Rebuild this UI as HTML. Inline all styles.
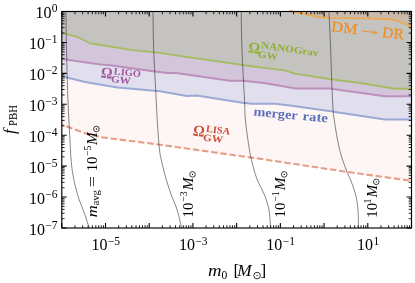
<!DOCTYPE html>
<html><head><meta charset="utf-8"><title>PBH constraints</title>
<style>html,body{margin:0;padding:0;background:#fff;}body{width:415px;height:283px;overflow:hidden;position:relative;}svg text{font-family:"Liberation Serif",serif;}</style></head>
<body>
<svg width="415" height="283" viewBox="0 0 415 283" style="position:absolute;left:0;top:0;will-change:transform;transform:translateZ(0)">
<rect width="415" height="283" fill="#fff"/>
<polygon points="61.80,76.25 85.00,82.00 117.50,87.50 160.00,91.25 187.00,96.10 196.50,95.60 242.50,102.80 252.00,103.80 264.00,103.70 275.00,103.70 290.00,105.40 332.50,111.40 340.00,112.80 385.00,119.50 411.50,119.50 411.50,180.80 347.60,172.00 264.00,159.40 160.00,144.70 102.50,137.40 88.80,134.60 77.00,130.30 61.80,124.50" fill="#fdf6f4"/>
<polygon points="61.80,58.90 100.70,64.40 110.00,65.20 140.50,69.60 160.80,72.20 167.00,73.10 176.00,72.90 230.00,80.75 242.50,80.75 264.00,83.10 296.00,88.45 330.00,88.45 340.00,90.10 385.00,96.25 411.50,96.25 411.50,119.50 385.00,119.50 340.00,112.80 332.50,111.40 290.00,105.40 275.00,103.70 264.00,103.70 252.00,103.80 242.50,102.80 196.50,95.60 187.00,96.10 160.00,91.25 117.50,87.50 85.00,82.00 61.80,76.25" fill="#e1dfee"/>
<polygon points="61.80,32.70 77.50,37.00 90.00,43.25 132.50,50.20 160.00,52.90 186.00,56.90 250.00,66.00 264.00,67.80 285.00,70.40 295.00,73.60 332.50,79.50 360.00,83.00 395.00,88.75 411.50,88.75 411.50,96.25 385.00,96.25 340.00,90.10 330.00,88.45 296.00,88.45 264.00,83.10 242.50,80.75 230.00,80.75 176.00,72.90 167.00,73.10 160.80,72.20 140.50,69.60 110.00,65.20 100.70,64.40 61.80,58.90" fill="#d3c5da"/>
<polygon points="61.80,11.50 61.80,32.70 77.50,37.00 90.00,43.25 132.50,50.20 160.00,52.90 186.00,56.90 250.00,66.00 264.00,67.80 285.00,70.40 295.00,73.60 332.50,79.50 360.00,83.00 395.00,88.75 411.50,88.75 411.50,11.50" fill="#c5c3bf"/>
<polygon points="289.80,10.90 317.50,16.80 328.50,18.00 364.00,18.30 386.00,19.20 394.00,19.80 398.00,21.00 411.50,26.70 411.50,11.50" fill="#c9baa9"/>
<line x1="400" y1="10.6" x2="412.0" y2="10.6" stroke="#c2e6e9" stroke-width="0.9"/>
<polyline points="61.80,124.50 77.00,130.30 88.80,134.60 102.50,137.40 160.00,144.70 264.00,159.40 347.60,172.00 411.50,180.80" fill="none" stroke="#e69e8a" stroke-width="2.1" stroke-dasharray="6.5 2.73" stroke-dashoffset="4.46"/>
<polyline points="61.80,76.25 85.00,82.00 117.50,87.50 160.00,91.25 187.00,96.10 196.50,95.60 242.50,102.80 252.00,103.80 264.00,103.70 275.00,103.70 290.00,105.40 332.50,111.40 340.00,112.80 385.00,119.50 411.50,119.50" fill="none" stroke="#9ba9d5" stroke-width="2.0" stroke-linejoin="round"/>
<polyline points="61.80,58.90 100.70,64.40 110.00,65.20 140.50,69.60 160.80,72.20 167.00,73.10 176.00,72.90 230.00,80.75 242.50,80.75 264.00,83.10 296.00,88.45 330.00,88.45 340.00,90.10 385.00,96.25 411.50,96.25" fill="none" stroke="#bc90bb" stroke-width="2.0" stroke-linejoin="round"/>
<polyline points="61.80,32.70 77.50,37.00 90.00,43.25 132.50,50.20 160.00,52.90 186.00,56.90 250.00,66.00 264.00,67.80 285.00,70.40 295.00,73.60 332.50,79.50 360.00,83.00 395.00,88.75 411.50,88.75" fill="none" stroke="#a5bc63" stroke-width="1.85" stroke-linejoin="round"/>
<polyline points="289.80,10.90 317.50,16.80 328.50,18.00 364.00,18.30 386.00,19.20 394.00,19.80 398.00,21.00 411.50,26.70" fill="none" stroke="#eea752" stroke-width="1.75" stroke-linejoin="round"/>
<path d="M65.90,11.50 C65.97,16.25 66.15,31.92 66.30,40.00 C66.45,48.08 66.62,52.67 66.80,60.00 C66.98,67.33 67.13,75.50 67.40,84.00 C67.67,92.50 68.07,103.33 68.40,111.00 C68.73,118.67 68.95,121.83 69.40,130.00 C69.85,138.17 70.50,152.50 71.10,160.00 C71.70,167.50 72.28,170.58 73.00,175.00 C73.72,179.42 74.37,182.37 75.40,186.50 C76.43,190.63 77.72,195.38 79.20,199.80 C80.68,204.22 82.62,208.30 84.30,213.00 C85.98,217.70 88.47,225.50 89.30,228.00" fill="none" stroke="#222" stroke-width="0.55"/>
<path d="M153.00,11.50 C153.12,17.92 153.17,35.25 153.70,50.00 C154.23,64.75 155.60,88.17 156.20,100.00 C156.80,111.83 156.75,112.67 157.30,121.00 C157.85,129.33 158.63,142.67 159.50,150.00 C160.37,157.33 161.35,160.00 162.50,165.00 C163.65,170.00 164.93,175.00 166.40,180.00 C167.87,185.00 169.50,190.00 171.30,195.00 C173.10,200.00 175.48,204.50 177.20,210.00 C178.92,215.50 180.87,225.00 181.60,228.00" fill="none" stroke="#222" stroke-width="0.55"/>
<path d="M241.20,11.50 C241.33,17.92 241.45,35.25 242.00,50.00 C242.55,64.75 243.92,88.17 244.50,100.00 C245.08,111.83 244.67,112.67 245.50,121.00 C246.33,129.33 248.30,142.67 249.50,150.00 C250.70,157.33 251.40,160.00 252.70,165.00 C254.00,170.00 255.33,175.00 257.30,180.00 C259.27,185.00 262.55,190.00 264.50,195.00 C266.45,200.00 268.00,204.50 269.00,210.00 C270.00,215.50 270.25,225.00 270.50,228.00" fill="none" stroke="#222" stroke-width="0.55"/>
<path d="M329.00,11.50 C329.28,17.92 330.12,35.25 330.70,50.00 C331.28,64.75 331.88,88.17 332.50,100.00 C333.12,111.83 333.20,112.67 334.40,121.00 C335.60,129.33 337.65,141.67 339.70,150.00 C341.75,158.33 344.88,166.00 346.70,171.00 C348.52,176.00 349.10,176.00 350.60,180.00 C352.10,184.00 354.47,190.00 355.70,195.00 C356.93,200.00 357.53,204.50 358.00,210.00 C358.47,215.50 358.42,225.00 358.50,228.00" fill="none" stroke="#222" stroke-width="0.55"/>
<path d="M61.80,228.0v-4.9 M61.80,11.5v4.9 M105.51,228.0v-4.9 M105.51,11.5v4.9 M149.22,228.0v-4.9 M149.22,11.5v4.9 M192.94,228.0v-4.9 M192.94,11.5v4.9 M236.65,228.0v-4.9 M236.65,11.5v4.9 M280.36,228.0v-4.9 M280.36,11.5v4.9 M324.07,228.0v-4.9 M324.07,11.5v4.9 M367.79,228.0v-4.9 M367.79,11.5v4.9 M411.50,228.0v-4.9 M411.50,11.5v4.9 M61.8,228.00h4.9 M411.5,228.00h-4.9 M61.8,197.07h4.9 M411.5,197.07h-4.9 M61.8,166.14h4.9 M411.5,166.14h-4.9 M61.8,135.21h4.9 M411.5,135.21h-4.9 M61.8,104.29h4.9 M411.5,104.29h-4.9 M61.8,73.36h4.9 M411.5,73.36h-4.9 M61.8,42.43h4.9 M411.5,42.43h-4.9 M61.8,11.50h4.9 M411.5,11.50h-4.9" stroke="#000" stroke-width="1.1" fill="none"/>
<path d="M74.96,228.0v-2.8 M74.96,11.5v2.8 M82.66,228.0v-2.8 M82.66,11.5v2.8 M88.12,228.0v-2.8 M88.12,11.5v2.8 M92.35,228.0v-2.8 M92.35,11.5v2.8 M95.81,228.0v-2.8 M95.81,11.5v2.8 M98.74,228.0v-2.8 M98.74,11.5v2.8 M101.28,228.0v-2.8 M101.28,11.5v2.8 M103.51,228.0v-2.8 M103.51,11.5v2.8 M118.67,228.0v-2.8 M118.67,11.5v2.8 M126.37,228.0v-2.8 M126.37,11.5v2.8 M131.83,228.0v-2.8 M131.83,11.5v2.8 M136.07,228.0v-2.8 M136.07,11.5v2.8 M139.53,228.0v-2.8 M139.53,11.5v2.8 M142.45,228.0v-2.8 M142.45,11.5v2.8 M144.99,228.0v-2.8 M144.99,11.5v2.8 M147.22,228.0v-2.8 M147.22,11.5v2.8 M162.38,228.0v-2.8 M162.38,11.5v2.8 M170.08,228.0v-2.8 M170.08,11.5v2.8 M175.54,228.0v-2.8 M175.54,11.5v2.8 M179.78,228.0v-2.8 M179.78,11.5v2.8 M183.24,228.0v-2.8 M183.24,11.5v2.8 M186.17,228.0v-2.8 M186.17,11.5v2.8 M188.70,228.0v-2.8 M188.70,11.5v2.8 M190.94,228.0v-2.8 M190.94,11.5v2.8 M206.10,228.0v-2.8 M206.10,11.5v2.8 M213.79,228.0v-2.8 M213.79,11.5v2.8 M219.26,228.0v-2.8 M219.26,11.5v2.8 M223.49,228.0v-2.8 M223.49,11.5v2.8 M226.95,228.0v-2.8 M226.95,11.5v2.8 M229.88,228.0v-2.8 M229.88,11.5v2.8 M232.41,228.0v-2.8 M232.41,11.5v2.8 M234.65,228.0v-2.8 M234.65,11.5v2.8 M249.81,228.0v-2.8 M249.81,11.5v2.8 M257.51,228.0v-2.8 M257.51,11.5v2.8 M262.97,228.0v-2.8 M262.97,11.5v2.8 M267.20,228.0v-2.8 M267.20,11.5v2.8 M270.66,228.0v-2.8 M270.66,11.5v2.8 M273.59,228.0v-2.8 M273.59,11.5v2.8 M276.13,228.0v-2.8 M276.13,11.5v2.8 M278.36,228.0v-2.8 M278.36,11.5v2.8 M293.52,228.0v-2.8 M293.52,11.5v2.8 M301.22,228.0v-2.8 M301.22,11.5v2.8 M306.68,228.0v-2.8 M306.68,11.5v2.8 M310.92,228.0v-2.8 M310.92,11.5v2.8 M314.38,228.0v-2.8 M314.38,11.5v2.8 M317.30,228.0v-2.8 M317.30,11.5v2.8 M319.84,228.0v-2.8 M319.84,11.5v2.8 M322.07,228.0v-2.8 M322.07,11.5v2.8 M337.23,228.0v-2.8 M337.23,11.5v2.8 M344.93,228.0v-2.8 M344.93,11.5v2.8 M350.39,228.0v-2.8 M350.39,11.5v2.8 M354.63,228.0v-2.8 M354.63,11.5v2.8 M358.09,228.0v-2.8 M358.09,11.5v2.8 M361.02,228.0v-2.8 M361.02,11.5v2.8 M363.55,228.0v-2.8 M363.55,11.5v2.8 M365.79,228.0v-2.8 M365.79,11.5v2.8 M380.95,228.0v-2.8 M380.95,11.5v2.8 M388.64,228.0v-2.8 M388.64,11.5v2.8 M394.11,228.0v-2.8 M394.11,11.5v2.8 M398.34,228.0v-2.8 M398.34,11.5v2.8 M401.80,228.0v-2.8 M401.80,11.5v2.8 M404.73,228.0v-2.8 M404.73,11.5v2.8 M407.26,228.0v-2.8 M407.26,11.5v2.8 M409.50,228.0v-2.8 M409.50,11.5v2.8 M61.8,218.69h2.8 M411.5,218.69h-2.8 M61.8,213.24h2.8 M411.5,213.24h-2.8 M61.8,209.38h2.8 M411.5,209.38h-2.8 M61.8,206.38h2.8 M411.5,206.38h-2.8 M61.8,203.93h2.8 M411.5,203.93h-2.8 M61.8,201.86h2.8 M411.5,201.86h-2.8 M61.8,200.07h2.8 M411.5,200.07h-2.8 M61.8,198.49h2.8 M411.5,198.49h-2.8 M61.8,187.76h2.8 M411.5,187.76h-2.8 M61.8,182.31h2.8 M411.5,182.31h-2.8 M61.8,178.45h2.8 M411.5,178.45h-2.8 M61.8,175.45h2.8 M411.5,175.45h-2.8 M61.8,173.00h2.8 M411.5,173.00h-2.8 M61.8,170.93h2.8 M411.5,170.93h-2.8 M61.8,169.14h2.8 M411.5,169.14h-2.8 M61.8,167.56h2.8 M411.5,167.56h-2.8 M61.8,156.83h2.8 M411.5,156.83h-2.8 M61.8,151.39h2.8 M411.5,151.39h-2.8 M61.8,147.52h2.8 M411.5,147.52h-2.8 M61.8,144.52h2.8 M411.5,144.52h-2.8 M61.8,142.08h2.8 M411.5,142.08h-2.8 M61.8,140.01h2.8 M411.5,140.01h-2.8 M61.8,138.21h2.8 M411.5,138.21h-2.8 M61.8,136.63h2.8 M411.5,136.63h-2.8 M61.8,125.90h2.8 M411.5,125.90h-2.8 M61.8,120.46h2.8 M411.5,120.46h-2.8 M61.8,116.59h2.8 M411.5,116.59h-2.8 M61.8,113.60h2.8 M411.5,113.60h-2.8 M61.8,111.15h2.8 M411.5,111.15h-2.8 M61.8,109.08h2.8 M411.5,109.08h-2.8 M61.8,107.28h2.8 M411.5,107.28h-2.8 M61.8,105.70h2.8 M411.5,105.70h-2.8 M61.8,94.98h2.8 M411.5,94.98h-2.8 M61.8,89.53h2.8 M411.5,89.53h-2.8 M61.8,85.66h2.8 M411.5,85.66h-2.8 M61.8,82.67h2.8 M411.5,82.67h-2.8 M61.8,80.22h2.8 M411.5,80.22h-2.8 M61.8,78.15h2.8 M411.5,78.15h-2.8 M61.8,76.35h2.8 M411.5,76.35h-2.8 M61.8,74.77h2.8 M411.5,74.77h-2.8 M61.8,64.05h2.8 M411.5,64.05h-2.8 M61.8,58.60h2.8 M411.5,58.60h-2.8 M61.8,54.74h2.8 M411.5,54.74h-2.8 M61.8,51.74h2.8 M411.5,51.74h-2.8 M61.8,49.29h2.8 M411.5,49.29h-2.8 M61.8,47.22h2.8 M411.5,47.22h-2.8 M61.8,45.43h2.8 M411.5,45.43h-2.8 M61.8,43.84h2.8 M411.5,43.84h-2.8 M61.8,33.12h2.8 M411.5,33.12h-2.8 M61.8,27.67h2.8 M411.5,27.67h-2.8 M61.8,23.81h2.8 M411.5,23.81h-2.8 M61.8,20.81h2.8 M411.5,20.81h-2.8 M61.8,18.36h2.8 M411.5,18.36h-2.8 M61.8,16.29h2.8 M411.5,16.29h-2.8 M61.8,14.50h2.8 M411.5,14.50h-2.8 M61.8,12.92h2.8 M411.5,12.92h-2.8" stroke="#000" stroke-width="0.85" fill="none"/>
<rect x="61.8" y="11.5" width="349.7" height="216.5" fill="none" stroke="#000" stroke-width="1.15"/>
<text x="57.60" y="234.50" text-anchor="end" font-size="16">10<tspan dy="-5.8" dx="0.4" font-size="11.5">−7</tspan></text>
<text x="57.60" y="203.57" text-anchor="end" font-size="16">10<tspan dy="-5.8" dx="0.4" font-size="11.5">−6</tspan></text>
<text x="57.60" y="172.64" text-anchor="end" font-size="16">10<tspan dy="-5.8" dx="0.4" font-size="11.5">−5</tspan></text>
<text x="57.60" y="141.71" text-anchor="end" font-size="16">10<tspan dy="-5.8" dx="0.4" font-size="11.5">−4</tspan></text>
<text x="57.60" y="110.79" text-anchor="end" font-size="16">10<tspan dy="-5.8" dx="0.4" font-size="11.5">−3</tspan></text>
<text x="57.60" y="79.86" text-anchor="end" font-size="16">10<tspan dy="-5.8" dx="0.4" font-size="11.5">−2</tspan></text>
<text x="57.60" y="48.93" text-anchor="end" font-size="16">10<tspan dy="-5.8" dx="0.4" font-size="11.5">−1</tspan></text>
<text x="57.60" y="18.00" text-anchor="end" font-size="16">10<tspan dy="-5.8" dx="0.4" font-size="11.5">0</tspan></text>
<text x="105.81" y="250.40" text-anchor="middle" font-size="16">10<tspan dy="-5.8" dx="0.4" font-size="11.5">−5</tspan></text>
<text x="193.24" y="250.40" text-anchor="middle" font-size="16">10<tspan dy="-5.8" dx="0.4" font-size="11.5">−3</tspan></text>
<text x="280.66" y="250.40" text-anchor="middle" font-size="16">10<tspan dy="-5.8" dx="0.4" font-size="11.5">−1</tspan></text>
<text x="368.09" y="250.40" text-anchor="middle" font-size="16">10<tspan dy="-5.8" dx="0.4" font-size="11.5">1</tspan></text>
<g transform="translate(14.6,132.4) rotate(-90)"><text x="-1.6" y="0" font-size="17.2" font-style="italic">f</text><text x="6.5" y="2.7" font-size="11.6" textLength="21.0" lengthAdjust="spacingAndGlyphs">PBH</text></g>
<text x="207.9" y="276.2" font-size="16.8" font-style="italic" textLength="13.5" lengthAdjust="spacingAndGlyphs">m</text><text x="221.5" y="278.6" font-size="11.6">0</text><text x="233.4" y="276.4" font-size="17.2">[</text><text x="237.3" y="276.2" font-size="16.8" font-style="italic" textLength="14.4" lengthAdjust="spacingAndGlyphs">M</text><circle cx="257.1" cy="275.6" r="3.3" fill="none" stroke="#000" stroke-width="0.8"/><circle cx="257.1" cy="275.6" r="0.65" fill="#000"/><text x="260.5" y="276.4" font-size="17.2">]</text>
<g transform="translate(96.7,217.2) rotate(-90)"><text x="0" y="0" font-size="14" font-style="italic" textLength="12.0" lengthAdjust="spacingAndGlyphs">m</text><text x="11.6" y="2.0" font-size="9.8" textLength="15.6" lengthAdjust="spacingAndGlyphs">avg</text><text x="30.0" y="0" font-size="13.8" textLength="11.2" lengthAdjust="spacingAndGlyphs">=</text><text x="45.9" y="0" font-size="13.8" textLength="14.8" lengthAdjust="spacingAndGlyphs">10</text><text x="61.2" y="-6.0" font-size="9.8">−5</text><text x="72.3" y="0" font-size="14" font-style="italic" textLength="12.7" lengthAdjust="spacingAndGlyphs">M</text><circle cx="88.2" cy="-0.3" r="2.8" fill="none" stroke="#000" stroke-width="0.75"/><circle cx="88.2" cy="-0.3" r="0.65" fill="#000"/></g>
<g transform="translate(192.8,216.5) rotate(-90)"><text x="-1.0" y="0" font-size="13.8" textLength="14.8" lengthAdjust="spacingAndGlyphs">10</text><text x="14.8" y="-5.8" font-size="9.8">−3</text><text x="26.3" y="0" font-size="14" font-style="italic" textLength="12.7" lengthAdjust="spacingAndGlyphs">M</text><circle cx="42.1" cy="-0.3" r="2.8" fill="none" stroke="#000" stroke-width="0.75"/><circle cx="42.1" cy="-0.3" r="0.65" fill="#000"/></g>
<g transform="translate(284.5,216.5) rotate(-90)"><text x="-1.0" y="0" font-size="13.8" textLength="14.8" lengthAdjust="spacingAndGlyphs">10</text><text x="14.8" y="-5.8" font-size="9.8">−1</text><text x="26.3" y="0" font-size="14" font-style="italic" textLength="12.7" lengthAdjust="spacingAndGlyphs">M</text><circle cx="42.1" cy="-0.3" r="2.8" fill="none" stroke="#000" stroke-width="0.75"/><circle cx="42.1" cy="-0.3" r="0.65" fill="#000"/></g>
<g transform="translate(376.6,216.5) rotate(-90)"><text x="-1.2" y="0" font-size="13.8" textLength="14.8" lengthAdjust="spacingAndGlyphs">10</text><text x="13.1" y="-5.8" font-size="9.8">1</text><text x="19.1" y="0" font-size="14" font-style="italic" textLength="12.7" lengthAdjust="spacingAndGlyphs">M</text><circle cx="34.7" cy="-0.3" r="2.8" fill="none" stroke="#000" stroke-width="0.75"/><circle cx="34.7" cy="-0.3" r="0.65" fill="#000"/></g>
<g transform="translate(100.4,77.5) rotate(6)" fill="#a4579f" font-weight="bold"><text x="0" y="0" font-size="15.8" textLength="11.6" lengthAdjust="spacingAndGlyphs">Ω</text><text x="12.8" y="-4.7" font-size="9.8" textLength="27.0" lengthAdjust="spacingAndGlyphs">LIGO</text><text x="10.7" y="3.4" font-size="9.8" textLength="20" lengthAdjust="spacingAndGlyphs">GW</text></g>
<g transform="translate(192.6,135.6) rotate(7)" fill="#cc4c36" font-weight="bold"><text x="0" y="0" font-size="15.8" textLength="11.6" lengthAdjust="spacingAndGlyphs">Ω</text><text x="12.6" y="-5.4" font-size="9.8" textLength="24.2" lengthAdjust="spacingAndGlyphs">LISA</text><text x="10.7" y="3.5" font-size="9.8" textLength="20" lengthAdjust="spacingAndGlyphs">GW</text></g>
<g transform="translate(247.8,52.3) rotate(8.2)" fill="#8db030" font-weight="bold"><text x="0" y="0" font-size="15.8" textLength="11.6" lengthAdjust="spacingAndGlyphs">Ω</text><text x="12.2" y="-6.0" font-size="9.8" textLength="58.0" lengthAdjust="spacingAndGlyphs">NANOGrav</text><text x="10.4" y="3.6" font-size="9.8" textLength="20" lengthAdjust="spacingAndGlyphs">GW</text></g>
<g transform="translate(253.2,115.6) rotate(5.2)" fill="#5c70b8" font-weight="bold"><text x="0" y="0" font-size="12.9" textLength="44.3" lengthAdjust="spacingAndGlyphs">merger</text><text x="49.3" y="0" font-size="12.9" textLength="25.4" lengthAdjust="spacingAndGlyphs">rate</text></g>
<g transform="translate(331.1,31.3) rotate(6.5)" fill="#ee9022" stroke="#ee9022" stroke-width="0.25"><text x="0" y="0" font-size="15" textLength="26" lengthAdjust="spacingAndGlyphs">DM</text><path d="M31,-3.8H45 M41.6,-6.5Q42.8,-4.4 45.3,-3.8Q42.8,-3.2 41.6,-1.1" fill="none" stroke-width="0.85" stroke-linecap="round"/><text x="51" y="0" font-size="15" textLength="21.8" lengthAdjust="spacingAndGlyphs">DR</text></g>
</svg>
</body></html>
